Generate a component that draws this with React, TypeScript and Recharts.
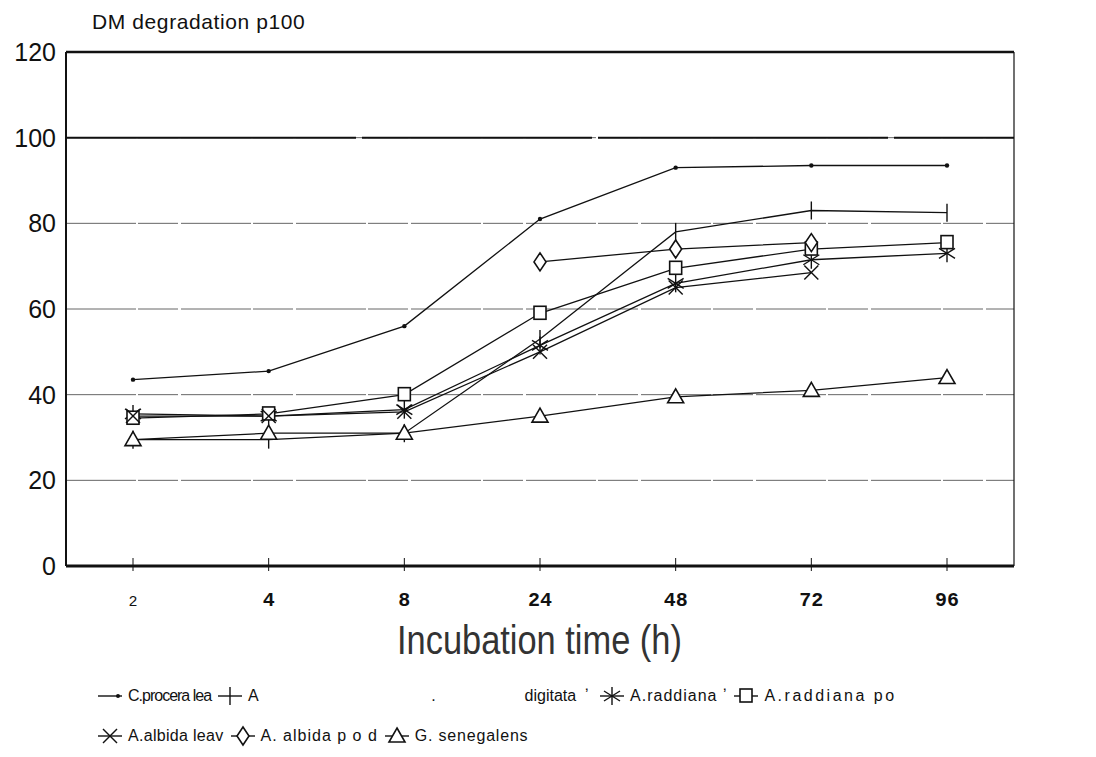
import { LineChart, Line, XAxis, YAxis, CartesianGrid, ReferenceLine } from 'recharts';

const hours = ['2', '4', '8', '24', '48', '72', '96'];

const cProcera = [43.5, 45.5, 56, 81, 93, 93.5, 93.5];
const aDigitata = [29.5, 29.5, 31, 53, 78, 83, 82.5];
const aRaddiana = [35.5, 35, 36.5, 51.5, 66, 71.5, 73];
const aRaddianaPod = [34.5, 35.5, 40, 59, 69.5, 74, 75.5];
const aAlbidaLeav = [35, 35, 36, 50, 65, 68.5, null];
const aAlbidaPod = [null, null, null, 71, 74, 75.5, null];
const gSenegalens = [29.5, 31, 31, 35, 39.5, 41, 44];

const yTicks = [0, 20, 40, 60, 80, 100, 120];

type Shape = 'dot' | 'plus' | 'star' | 'square' | 'cross' | 'diamond' | 'triangle';

const series: { key: string; name: string; shape: Shape; values: (number | null)[] }[] = [
  { key: 'cp', name: 'C.procera lea', shape: 'dot', values: cProcera },
  { key: 'ad', name: 'A                                       .                    digitata  \u02BC ', shape: 'plus', values: aDigitata },
  { key: 'ar', name: 'A.raddiana \u02BC', shape: 'star', values: aRaddiana },
  { key: 'arp', name: 'A.raddiana po', shape: 'square', values: aRaddianaPod },
  { key: 'aal', name: 'A.albida leav', shape: 'cross', values: aAlbidaLeav },
  { key: 'aap', name: 'A. albida p o d', shape: 'diamond', values: aAlbidaPod },
  { key: 'gs', name: 'G. senegalens', shape: 'triangle', values: gSenegalens },
];

const data = hours.map((h, i) => {
  const row: Record<string, string | number | null> = { hour: h };
  series.forEach(s => { row[s.key] = s.values[i]; });
  return row;
});

function marker(shape: Shape, cx: number, cy: number) {
  const st = { stroke: '#111', strokeWidth: 1.4, fill: 'none' };
  switch (shape) {
    case 'dot':
      return <circle cx={cx} cy={cy} r={2.2} fill="#111" />;
    case 'plus':
      return <line x1={cx} y1={cy - 9} x2={cx} y2={cy + 9} {...st} />;
    case 'star':
      return (
        <g {...st}>
          <line x1={cx} y1={cy - 9} x2={cx} y2={cy + 9} />
          <line x1={cx - 8} y1={cy - 5} x2={cx + 8} y2={cy + 5} />
          <line x1={cx - 8} y1={cy + 5} x2={cx + 8} y2={cy - 5} />
        </g>
      );
    case 'square':
      return <rect x={cx - 6} y={cy - 7} width={12} height={13} fill="#fff" stroke="#111" strokeWidth={1.6} />;
    case 'cross':
      return (
        <g {...st}>
          <line x1={cx - 7} y1={cy - 7} x2={cx + 7} y2={cy + 7} />
          <line x1={cx - 7} y1={cy + 7} x2={cx + 7} y2={cy - 7} />
        </g>
      );
    case 'diamond':
      return <polygon points={`${cx},${cy - 9} ${cx + 6},${cy} ${cx},${cy + 9} ${cx - 6},${cy}`} fill="#fff" stroke="#111" strokeWidth={1.6} />;
    case 'triangle':
      return <polygon points={`${cx},${cy - 8} ${cx + 8},${cy + 6} ${cx - 8},${cy + 6}`} fill="#fff" stroke="#111" strokeWidth={1.6} />;
  }
}

const dotFor = (shape: Shape) => (props: any) => {
  const { cx, cy, value, index } = props;
  if (value == null || cx == null || cy == null) return <g key={index} />;
  return <g key={index}>{marker(shape, cx, cy)}</g>;
};

function XTick(props: any) {
  const { x, y, payload } = props;
  const first = payload.value === '2';
  return (
    <g>
      <line x1={x} y1={y - 3} x2={x} y2={y - 16} stroke="#111" strokeWidth={1} />
      <text
        x={x}
        y={y + 32}
        textAnchor="middle"
        fontFamily="'Liberation Mono', 'DejaVu Sans Mono', monospace"
        fontWeight={first ? 400 : 700}
        fontSize={first ? 15 : 20}
        fill="#111"
      >
        {payload.value}
      </text>
    </g>
  );
}

function LegendIcon({ shape }: { shape: Shape }) {
  return (
    <svg width={26} height={20} style={{ overflow: 'visible' }}>
      <line x1={1} y1={10} x2={25} y2={10} stroke="#111" strokeWidth={1.4} />
      {shape === 'dot' ? <circle cx={21} cy={10} r={2} fill="#111" /> : marker(shape, 13, 10)}
    </svg>
  );
}

// the scanned legend has uneven letter spacing from item to item
const legendSpacing: Record<string, number> = { cp: -1, ad: 0, ar: 1, arp: 2.5, aal: 0.3, aap: 1, gs: 0.8 };

function LegendRow({ items }: { items: typeof series }) {
  return (
    <div style={{ display: 'flex', alignItems: 'center', gap: 6, height: 40 }}>
      {items.map(s => (
        <div key={s.key} style={{ display: 'flex', alignItems: 'center', gap: 5 }}>
          <LegendIcon shape={s.shape} />
          <span style={{ whiteSpace: 'pre', fontSize: 16, letterSpacing: legendSpacing[s.key], color: '#111' }}>{s.name}</span>
        </div>
      ))}
    </div>
  );
}

export default function App() {
  return (
    <div style={{ position: 'relative', width: 1080, height: 740, fontFamily: "'Liberation Sans', Arial, sans-serif", background: '#fff' }}>
      <div style={{ position: 'absolute', left: 84, top: 2, fontSize: 21, letterSpacing: 0.6, color: '#111' }}>DM degradation p100</div>
      <LineChart width={1080} height={660} data={data} margin={{ top: 44, right: 70, bottom: 62, left: 8 }}>
        <CartesianGrid horizontal vertical={false} stroke="#666" strokeWidth={1} strokeDasharray="70 2 40 3" />
        <ReferenceLine y={100} stroke="#111" strokeWidth={2} strokeDasharray="290 6 230 6" />
        <ReferenceLine y={120} stroke="#111" strokeWidth={2.5} />
        <XAxis
          dataKey="hour"
          tick={<XTick />}
          tickLine={false}
          axisLine={{ stroke: '#111', strokeWidth: 3 }}
          height={40}
          interval={0}
          padding={{ left: 67, right: 67 }}
        />
        <YAxis
          domain={[0, 120]}
          ticks={yTicks}
          width={50}
          tickLine={false}
          axisLine={{ stroke: '#111', strokeWidth: 2 }}
          tick={{ fill: '#111', fontSize: 25, fontFamily: "'Liberation Sans', Arial, sans-serif" }}
          tickMargin={4}
        />
        <YAxis yAxisId="right" orientation="right" width={4} tick={false} tickLine={false} axisLine={{ stroke: '#111', strokeWidth: 1.2 }} />
        {series.map(s => (
          <Line
            key={s.key}
            dataKey={s.key}
            name={s.name}
            type="linear"
            stroke="#111"
            strokeWidth={1.3}
            dot={dotFor(s.shape)}
            activeDot={false}
            isAnimationActive={false}
          />
        ))}
      </LineChart>
      <div style={{ position: 'absolute', left: 389, top: 610, fontSize: 40, color: '#333', transform: 'scaleX(0.86)', transformOrigin: 'left', whiteSpace: 'nowrap', lineHeight: '44px' }}>
        Incubation time (h)
      </div>
      <div style={{ position: 'absolute', left: 89, top: 668 }}>
        <LegendRow items={series.slice(0, 4)} />
        <LegendRow items={series.slice(4)} />
      </div>
    </div>
  );
}
